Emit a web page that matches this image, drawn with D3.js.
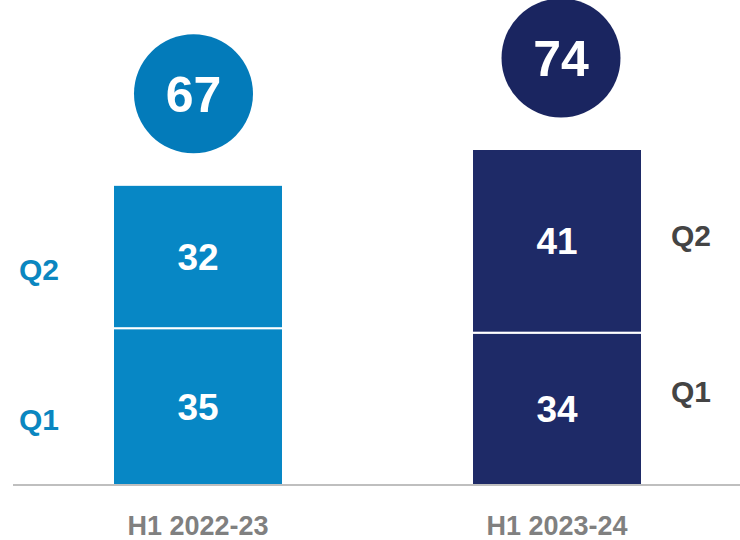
<!DOCTYPE html>
<html>
<head>
<meta charset="utf-8">
<script src="https://cdn.jsdelivr.net/npm/d3@7"></script>
<style>
  body { margin: 0; background: #fff; }
</style>
</head>
<body>
<div id="chart"></div>
<script>
const categories = ["H1 2022-23", "H1 2023-24"]
const q1Values = [35, 34]
const q2Values = [32, 41]
const totals = [67, 74]
const quarterNames = ["Q1", "Q2"]

const width = 740
const height = 540
const barColors = ["#0787C5", "#1E2A67"]
const circleColors = ["#037BBA", "#1A2560"]
const circleShift = [-4.5, 4]

const x = d3.scaleBand()
    .domain(categories)
    .range([113, 642])
    .paddingInner(0.5265)
    .paddingOuter(0)

const y = d3.scaleLinear()
    .domain([0, 75])
    .range([485, 149])

const svg = d3.select("#chart")
    .append("svg")
    .attr("width", width)
    .attr("height", height)

const stacks = categories.map((c, i) => ({
    cat: c, i: i,
    segs: [
        { q: quarterNames[0], y0: 0, y1: q1Values[i], v: q1Values[i] },
        { q: quarterNames[1], y0: q1Values[i], y1: q1Values[i] + q2Values[i], v: q2Values[i] }
    ]
}))

// bars
const g = svg.append("g")
stacks.forEach(s => {
    g.selectAll(null)
        .data(s.segs)
        .join("rect")
        .attr("x", x(s.cat))
        .attr("y", d => y(d.y1))
        .attr("width", x.bandwidth())
        .attr("height", d => y(d.y0) - y(d.y1))
        .attr("fill", barColors[s.i])
        .attr("stroke", "#fff")
        .attr("stroke-width", 2)

    g.selectAll(null)
        .data(s.segs)
        .join("text")
        .attr("x", x(s.cat) + x.bandwidth() / 2)
        .attr("y", d => (y(d.y0) + y(d.y1)) / 2)
        .attr("dy", "0.36em")
        .attr("text-anchor", "middle")
        .attr("font-family", "Liberation Sans, Arial")
        .attr("font-weight", "bold")
        .attr("font-size", 37)
        .attr("fill", "#fff")
        .text(d => d.v)
})

// total circles
svg.append("g")
    .selectAll("circle")
    .data(stacks)
    .join("circle")
    .attr("cx", d => x(d.cat) + x.bandwidth() / 2 + circleShift[d.i])
    .attr("cy", d => y(d.segs[1].y1) - 91)
    .attr("r", 59.5)
    .attr("fill", d => circleColors[d.i])

svg.append("g")
    .selectAll("text")
    .data(stacks)
    .join("text")
    .attr("x", d => x(d.cat) + x.bandwidth() / 2 + circleShift[d.i])
    .attr("y", d => y(d.segs[1].y1) - 91)
    .attr("dy", "0.36em")
    .attr("text-anchor", "middle")
    .attr("font-family", "Liberation Sans, Arial")
    .attr("font-weight", "bold")
    .attr("font-size", 50)
    .attr("fill", "#fff")
    .text((d, i) => totals[i])

// baseline
svg.append("line")
    .attr("x1", 13)
    .attr("x2", width)
    .attr("y1", y(0))
    .attr("y2", y(0))
    .attr("stroke", "#BFBFBF")
    .attr("stroke-width", 2)

// category labels
svg.append("g")
    .selectAll("text")
    .data(categories)
    .join("text")
    .attr("x", d => x(d) + x.bandwidth() / 2)
    .attr("y", 535)
    .attr("text-anchor", "middle")
    .attr("font-family", "Liberation Sans, Arial")
    .attr("font-weight", "bold")
    .attr("font-size", 27)
    .attr("fill", "#808080")
    .text(d => d)

// quarter labels, left of first bar
svg.append("g")
    .selectAll("text")
    .data(stacks[0].segs)
    .join("text")
    .attr("x", 19)
    .attr("y", d => (y(d.y0) + y(d.y1)) / 2 + 13)
    .attr("dy", "0.36em")
    .attr("font-family", "Liberation Sans, Arial")
    .attr("font-weight", "bold")
    .attr("font-size", 30)
    .attr("fill", "#0A86C0")
    .text(d => d.q)

// quarter labels, right of second bar
const rightOffsets = [-18, -6]
svg.append("g")
    .selectAll("text")
    .data(stacks[1].segs)
    .join("text")
    .attr("x", 671)
    .attr("y", (d, i) => (y(d.y0) + y(d.y1)) / 2 + rightOffsets[i])
    .attr("dy", "0.36em")
    .attr("font-family", "Liberation Sans, Arial")
    .attr("font-weight", "bold")
    .attr("font-size", 30)
    .attr("fill", "#444444")
    .text(d => d.q)
</script>
</body>
</html>
